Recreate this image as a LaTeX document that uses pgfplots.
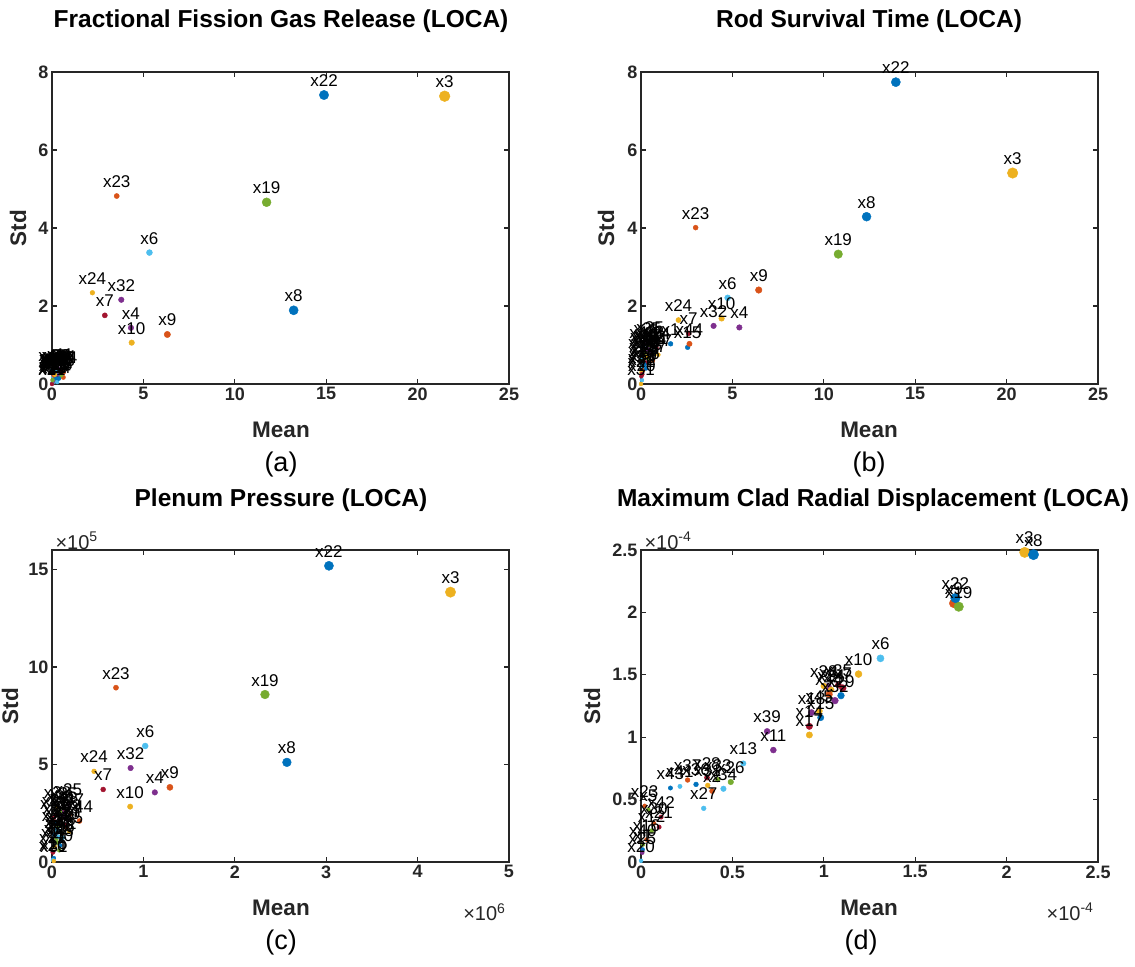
\documentclass[border=0pt]{standalone}
\usepackage{fontspec}
\setmainfont{Liberation Sans}
\usepackage{pgfplots}
\pgfplotsset{compat=1.18}
\usepackage{pgfplotstable}

\definecolor{axgray}{RGB}{38,38,38}

% columns: parameter number, mean, std, marker radius (bp)
\pgfplotstableread{
n x y s
1 0.30 0.22 2.2
2 0.62 0.17 2.2
3 21.48 7.38 5.4
4 4.32 1.44 2.8
5 0.10 0.12 2.0
6 5.33 3.37 3.0
7 2.89 1.76 2.6
8 13.22 1.89 4.6
9 6.31 1.27 3.2
10 4.36 1.06 2.8
11 0.45 0.38 2.2
12 0.05 0.05 2.0
13 0.20 0.28 2.0
14 0.55 0.33 2.2
15 0.25 0.12 2.2
16 0.08 0.30 2.0
17 0.35 0.30 2.0
18 0.15 0.08 2.2
19 11.74 4.66 4.5
20 0.02 0.02 2.0
21 0.00 0.00 2.0
22 14.88 7.41 4.7
23 3.54 4.82 2.6
24 2.21 2.34 2.4
25 0.12 0.25 2.0
26 0.40 0.25 2.0
27 0.06 0.18 2.0
28 0.22 0.20 2.0
29 0.18 0.15 2.2
30 0.30 0.35 2.0
31 0.04 0.28 2.0
32 3.79 2.16 2.8
33 0.50 0.22 2.0
34 0.28 0.05 2.0
35 0.14 0.32 2.0
36 0.38 0.14 2.0
37 0.09 0.22 2.0
38 0.20 0.36 2.0
39 0.33 0.26 2.0
40 0.03 0.10 2.0
41 0.26 0.32 2.0
42 0.48 0.30 2.0
43 0.01 0.35 2.0
44 0.63 0.30 2.2
45 0.16 0.24 2.0
}\fgr

\pgfplotstableread{
n x y s
1 1.62 1.03 2.4
2 0.70 0.95 2.2
3 20.33 5.41 5.3
4 5.38 1.45 2.8
5 0.45 1.00 2.0
6 4.74 2.21 3.0
7 2.61 1.30 2.5
8 12.34 4.29 4.5
9 6.44 2.41 3.3
10 4.41 1.68 2.8
11 0.30 0.90 2.0
12 0.10 0.60 2.0
13 0.60 0.85 2.0
14 0.85 0.92 2.0
15 2.55 0.94 2.4
16 0.20 0.70 2.0
17 0.95 0.75 2.0
18 0.54 0.79 2.2
19 10.79 3.33 4.3
20 0.05 0.10 2.0
21 0.02 0.20 2.0
22 13.94 7.74 4.6
23 2.99 4.01 2.5
24 2.05 1.64 2.6
25 0.35 1.05 2.0
26 0.15 0.85 2.0
27 0.08 0.45 2.0
28 0.25 0.55 2.0
29 0.18 0.50 2.2
30 0.12 0.35 2.0
31 0.00 0.00 2.0
32 3.97 1.49 2.8
33 0.40 0.65 2.0
34 0.05 0.70 2.0
35 0.50 1.08 2.0
36 0.28 0.40 2.0
37 0.65 0.60 2.0
38 0.03 0.30 2.0
39 0.42 0.88 2.0
40 0.22 0.80 2.0
41 0.75 0.80 2.0
42 0.06 0.25 2.2
43 0.12 0.95 2.0
44 2.65 1.03 2.7
45 0.30 0.70 2.0
}\rst

% mean in 1e6, std in 1e5
\pgfplotstableread{
n x y s
1 0.03 1.40 2.2
2 0.10 2.20 2.0
3 4.36 13.84 5.2
4 1.125 3.57 2.8
5 0.05 1.20 2.0
6 1.02 5.95 3.0
7 0.56 3.72 2.5
8 2.57 5.11 4.4
9 1.29 3.83 3.1
10 0.855 2.84 2.7
11 0.12 2.55 2.2
12 0.06 1.00 2.0
13 0.08 1.60 2.0
14 0.15 1.90 2.0
15 0.02 0.20 2.0
16 0.11 1.45 2.0
17 0.03 0.77 2.2
18 0.14 2.30 2.0
19 2.33 8.59 4.4
20 0.01 0.10 2.0
21 0.01 0.50 2.2
22 3.03 15.19 4.6
23 0.70 8.94 2.6
24 0.46 4.65 2.4
25 0.18 2.95 2.0
26 0.09 2.60 2.0
27 0.07 1.30 2.0
28 0.04 2.40 2.0
29 0.05 2.00 2.0
30 0.16 1.75 2.0
31 0.02 0.05 2.0
32 0.86 4.82 2.8
33 0.07 1.85 2.0
34 0.04 1.65 2.0
35 0.13 2.75 2.0
36 0.10 1.10 2.0
37 0.20 2.45 2.0
38 0.06 2.80 2.0
39 0.17 2.15 2.0
40 0.08 0.60 2.0
41 0.12 1.25 2.0
42 0.02 2.25 2.0
43 0.09 0.85 2.0
44 0.30 2.10 2.5
45 0.19 1.55 2.0
}\ppr

% mean and std in 1e-4
\pgfplotstableread{
n x y s
1 0.009 0.10 2.0
2 0.389 0.569 2.6
3 2.099 2.481 5.2
4 1.023 1.405 3.4
5 0.04 0.42 2.0
6 1.310 1.632 3.6
7 1.104 1.394 3.4
8 2.147 2.463 5.2
9 1.711 2.073 4.5
10 1.190 1.506 3.5
11 0.724 0.897 3.0
12 0.058 0.25 2.2
13 0.560 0.790 2.7
14 0.921 1.087 3.2
15 0.983 1.157 3.2
16 0.03 0.18 2.0
17 0.921 1.018 3.2
18 0.933 1.197 3.2
19 1.738 2.046 4.8
20 0.000 0.010 2.0
21 0.099 0.28 2.2
22 1.720 2.115 4.8
23 0.02 0.45 2.0
24 1.040 1.380 3.0
25 0.007 0.075 2.0
26 0.491 0.641 2.8
27 0.343 0.430 2.4
28 0.361 0.676 2.6
29 1.094 1.333 3.4
30 0.070 0.31 2.2
31 0.365 0.614 2.4
32 1.061 1.293 3.4
33 0.420 0.660 2.4
34 0.451 0.587 2.8
35 1.080 1.420 3.0
36 0.301 0.622 2.4
37 0.255 0.657 2.4
38 1.000 1.410 3.0
39 0.690 1.047 3.0
40 0.010 0.140 2.0
41 0.213 0.606 2.2
42 0.110 0.360 2.2
43 0.161 0.593 2.2
44 1.029 1.343 3.4
45 0.975 1.210 3.2
}\mcd

% MATLAB default colour order
\definecolor{mc0}{RGB}{0,114,189}
\definecolor{mc1}{RGB}{217,83,25}
\definecolor{mc2}{RGB}{237,177,32}
\definecolor{mc3}{RGB}{126,47,142}
\definecolor{mc4}{RGB}{119,172,48}
\definecolor{mc5}{RGB}{77,190,238}
\definecolor{mc6}{RGB}{162,20,47}

\pgfplotsset{
  morris/.style={
    scale only axis, width=457bp, height=312bp,
    clip=false,
    axis line style={axgray, line width=1.1bp},
    every tick/.style={axgray, line width=1.1bp},
    major tick length=5bp,
    tick align=inside,
    ticklabel style={font=\bfseries\fontsize{18bp}{20bp}\selectfont, text=axgray},
    /pgf/number format/assume math mode=true,
    scaled ticks=false,
  },
  % coloured dots, colour from parameter number, radius from column s
  dots/.style={
    scatter, only marks, mark=*,
    point meta=\thisrow{n},
    visualization depends on={\thisrow{s} \as \msize},
    visualization depends on={\thisrow{n} \as \pnum},
    scatter/@pre marker code/.code={%
      \pgfmathtruncatemacro\ci{mod(round(\pnum)-1,7)}%
      \edef\dotopts{mark size=\msize pt, draw=mc\ci, fill=mc\ci}%
      \expandafter\scope\expandafter[\dotopts]%
    },
    scatter/@post marker code/.code={\endscope},
  },
  % text labels above the dots
  tags/.style={
    only marks, mark=none,
    point meta=\thisrow{n},
    visualization depends on={\thisrow{n} \as \pnum},
    nodes near coords={x\pgfmathprintnumber[int trunc]{\pnum}},
    every node near coord/.append style={text=black, anchor=base, inner sep=0pt,
      yshift=8.5bp, font=\fontsize{17bp}{17bp}\selectfont,
      /pgf/number format/assume math mode=true},
  },
}

\tikzset{
  ttl/.style={font=\bfseries\fontsize{24.5bp}{26bp}\selectfont, anchor=base},
  lbl/.style={font=\bfseries\fontsize{22.5bp}{24bp}\selectfont, text=axgray},
  sub/.style={font=\fontsize{27bp}{29bp}\selectfont},
  expo/.style={font=\fontsize{20bp}{22bp}\selectfont, text=axgray},
}

\begin{document}
\begin{tikzpicture}
\useasboundingbox (0,0) rectangle (1135bp,-967bp);

% (a)
\begin{axis}[morris, at={(52bp,-384bp)}, anchor=south west,
  xmin=0, xmax=25, ymin=0, ymax=8, xtick={0,5,...,25}, ytick={0,2,...,8}]
\addplot[dots] table[x=x, y=y] {\fgr};
\addplot[tags] table[x=x, y=y] {\fgr};
\end{axis}
\node[ttl] at (281bp,-27bp) {Fractional Fission Gas Release (LOCA)};
\node[lbl] at (281bp,-430bp) {Mean};
\node[lbl, rotate=90] at (18bp,-228bp) {Std};
\node[sub] at (281bp,-465bp) {(a)};

% (b)
\begin{axis}[morris, at={(641bp,-384bp)}, anchor=south west,
  xmin=0, xmax=25, ymin=0, ymax=8, xtick={0,5,...,25}, ytick={0,2,...,8}]
\addplot[dots] table[x=x, y=y] {\rst};
\addplot[tags] table[x=x, y=y] {\rst};
\end{axis}
\node[ttl] at (869bp,-27bp) {Rod Survival Time (LOCA)};
\node[lbl] at (869bp,-430bp) {Mean};
\node[lbl, rotate=90] at (606bp,-228bp) {Std};
\node[sub] at (869bp,-465bp) {(b)};

% (c)
\begin{axis}[morris, at={(52bp,-862bp)}, anchor=south west,
  xmin=0, xmax=5, ymin=0, ymax=16, xtick={0,1,...,5}, ytick={0,5,10,15}]
\addplot[dots] table[x=x, y=y] {\ppr};
\addplot[tags] table[x=x, y=y] {\ppr};
\end{axis}
\node[ttl] at (281bp,-506bp) {Plenum Pressure (LOCA)};
\node[lbl] at (281bp,-908bp) {Mean};
\node[lbl, rotate=90] at (10bp,-706bp) {Std};
\node[sub] at (281bp,-942bp) {(c)};
\node[expo, anchor=west] at (52bp,-541bp) {×10\textsuperscript{5}};
\node[expo, anchor=east] at (509bp,-912bp) {×10\textsuperscript{6}};

% (d)
\begin{axis}[morris, at={(641bp,-862bp)}, anchor=south west,
  xmin=0, xmax=2.5, ymin=0, ymax=2.5,
  xtick={0,0.5,1,1.5,2,2.5}, ytick={0,0.5,1,1.5,2,2.5}]
\addplot[dots] table[x=x, y=y] {\mcd};
\addplot[tags] table[x=x, y=y] {\mcd};
\end{axis}
\node[ttl] at (873bp,-506bp) {Maximum Clad Radial Displacement (LOCA)};
\node[lbl] at (869bp,-908bp) {Mean};
\node[lbl, rotate=90] at (592bp,-706bp) {Std};
\node[sub] at (861bp,-942bp) {(d)};
\node[expo, anchor=west] at (641bp,-541bp) {×10\textsuperscript{-4}};
\node[expo, anchor=east] at (1097bp,-912bp) {×10\textsuperscript{-4}};
\end{tikzpicture}
\end{document}
